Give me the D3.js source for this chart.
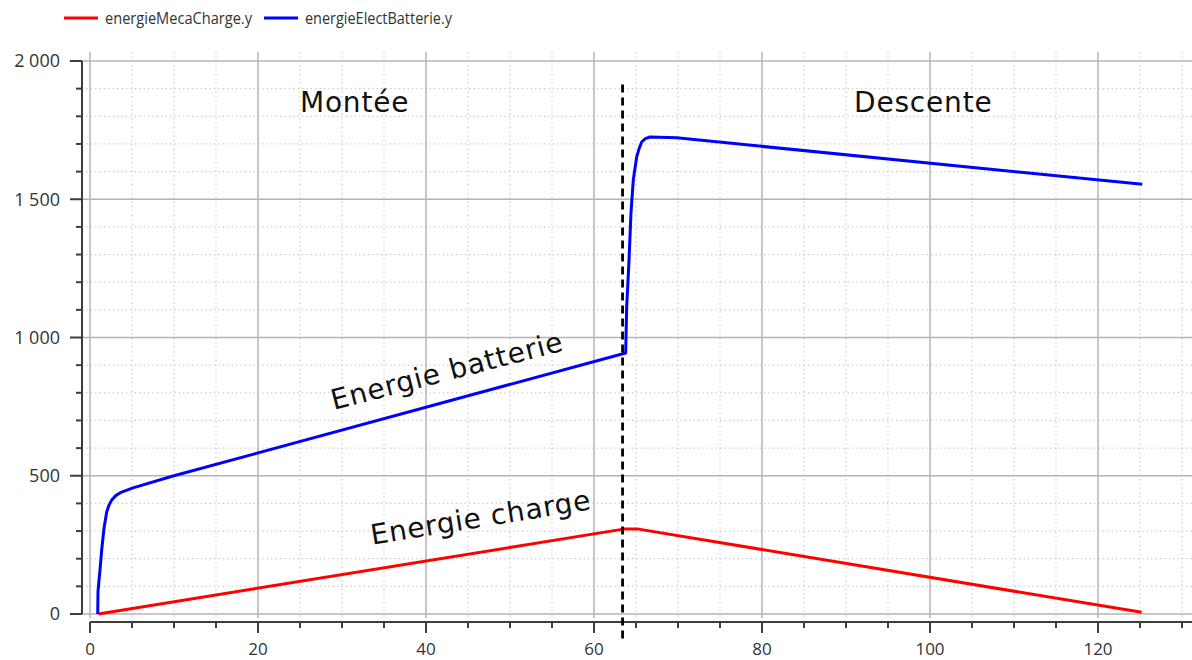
<!DOCTYPE html>
<html>
<head>
<meta charset="utf-8">
<script src="https://cdn.jsdelivr.net/npm/d3@7"></script>
<style>
  html, body { margin: 0; padding: 0; background: #fff; }
  svg { display: block; }
</style>
</head>
<body>
<svg id="chart" width="1192" height="660"></svg>
<script>
// Mechanical energy delivered to the load (J) versus time (s)
const chargeTime   = [1.0, 63.5, 65.3, 125.2];
const chargeEnergy = [0, 307, 307, 6];

// Electrical energy drawn from the battery (J) versus time (s)
const batteryTime   = [0.92, 0.95, 1.08, 1.19, 1.39, 1.67, 1.99, 2.25, 2.58, 3.1, 3.77, 5.12, 9.88,
                       63.77, 63.89, 64.17, 64.40, 64.68, 65.08, 65.4, 65.68, 66.1, 66.67, 69.85, 125.27];
const batteryEnergy = [0, 80, 125, 159, 231, 311, 369, 393, 412, 429, 441, 456, 499,
                       944, 1110, 1280, 1450, 1570, 1653, 1686, 1707, 1719, 1725, 1722, 1554];

// Axis ticks
const xTickValues = [0, 20, 40, 60, 80, 100, 120];
const xTickLabels = ["0", "20", "40", "60", "80", "100", "120"];
const yTickValues = [0, 500, 1000, 1500, 2000];
const yTickLabels = ["0", "500", "1 000", "1 500", "2 000"];

// Series names for the legend
const seriesNames  = ["energieMecaCharge.y", "energieElectBatterie.y"];
const seriesColors = ["#ff0000", "#0000ff"];

// Phase annotations
const phaseSwitchTime = 63.4;
const phaseLabels = ["Montée", "Descente"];
const phaseLabelTime = [31.5, 99.2];
const phaseLabelEnergy = [1850, 1852];
const curveLabels = ["Energie batterie", "Energie charge"];
const curveLabelTime = [42.5, 46.5];
const curveLabelEnergy = [880, 350];
const curveLabelAngle = [-14.5, -9.2];

const svg = d3.select("#chart");

const x = d3.scaleLinear().domain([0, 120]).range([90, 1098]);
const y = d3.scaleLinear().domain([0, 2000]).range([614, 61]);

const plot = { left: 82, right: 1192, top: 52, bottom: 618 };

svg.append("defs").append("clipPath").attr("id", "plotClip")
  .append("rect")
  .attr("x", plot.left).attr("y", plot.top)
  .attr("width", plot.right - plot.left).attr("height", plot.bottom - plot.top);

const grid = svg.append("g").attr("clip-path", "url(#plotClip)");

// minor grid (dotted)
const xMinor = d3.range(0, 135, 5).filter(v => v % 20 !== 0);
const yMinor = d3.range(0, 2001, 100).filter(v => v % 500 !== 0);
grid.selectAll("line.xminor").data(xMinor).join("line")
  .attr("x1", d => x(d)).attr("x2", d => x(d))
  .attr("y1", plot.top).attr("y2", plot.bottom)
  .attr("stroke", "#c4c4c4").attr("stroke-width", 1.2)
  .attr("stroke-dasharray", "1.2,3.2");
grid.selectAll("line.yminor").data(yMinor).join("line")
  .attr("x1", plot.left).attr("x2", plot.right)
  .attr("y1", d => y(d)).attr("y2", d => y(d))
  .attr("stroke", "#c4c4c4").attr("stroke-width", 1.2)
  .attr("stroke-dasharray", "1.2,3.2");

// major grid (solid)
const xMajor = d3.range(0, 141, 20);
grid.selectAll("line.xmajor").data(xMajor).join("line")
  .attr("x1", d => x(d)).attr("x2", d => x(d))
  .attr("y1", plot.top).attr("y2", plot.bottom)
  .attr("stroke", "#b4b4b4").attr("stroke-width", 1.5);
grid.selectAll("line.ymajor").data(yTickValues).join("line")
  .attr("x1", plot.left).attr("x2", plot.right)
  .attr("y1", d => y(d)).attr("y2", d => y(d))
  .attr("stroke", "#b4b4b4").attr("stroke-width", 1.5);

// axes
const axisColor = "#3c3c3c";
const axes = svg.append("g");
axes.append("line")
  .attr("x1", plot.left).attr("x2", plot.left)
  .attr("y1", y(2000)).attr("y2", y(0))
  .attr("stroke", axisColor).attr("stroke-width", 2);
axes.selectAll("line.yt").data(d3.range(0, 2001, 100)).join("line")
  .attr("x1", d => plot.left - (d % 500 === 0 ? 12 : 6)).attr("x2", plot.left)
  .attr("y1", d => y(d)).attr("y2", d => y(d))
  .attr("stroke", axisColor).attr("stroke-width", 2);
axes.append("line")
  .attr("x1", x(0)).attr("x2", plot.right)
  .attr("y1", 622).attr("y2", 622)
  .attr("stroke", axisColor).attr("stroke-width", 2);
axes.selectAll("line.xt").data(d3.range(0, 135, 5)).join("line")
  .attr("x1", d => x(d)).attr("x2", d => x(d))
  .attr("y1", 622).attr("y2", d => 622 + (d % 20 === 0 ? 11 : 6))
  .attr("stroke", axisColor).attr("stroke-width", 2);

const tickFont = "'Open Sans', 'Noto Sans', sans-serif";
axes.selectAll("text.yl").data(yTickValues).join("text")
  .attr("x", 60).attr("y", d => y(d))
  .attr("dy", "0.35em").attr("text-anchor", "end")
  .attr("font-family", tickFont).attr("font-size", 18).attr("fill", "#333")
  .text((d, i) => yTickLabels[i]);
axes.selectAll("text.xl").data(xTickValues).join("text")
  .attr("x", d => x(d)).attr("y", 649)
  .attr("dy", "0.35em").attr("text-anchor", "middle")
  .attr("font-family", tickFont).attr("font-size", 17).attr("fill", "#333")
  .text((d, i) => xTickLabels[i]);

// series
const lineGen = d3.line().x(d => x(d[0])).y(d => y(d[1]));
const series = svg.append("g").attr("clip-path", "url(#plotClip)");
series.append("path")
  .datum(d3.zip(chargeTime, chargeEnergy))
  .attr("d", lineGen).attr("fill", "none")
  .attr("stroke", seriesColors[0]).attr("stroke-width", 3)
  .attr("stroke-linejoin", "round");
series.append("path")
  .datum(d3.zip(batteryTime, batteryEnergy))
  .attr("d", lineGen).attr("fill", "none")
  .attr("stroke", seriesColors[1]).attr("stroke-width", 3)
  .attr("stroke-linejoin", "round");

// phase separator
svg.append("line")
  .attr("x1", x(phaseSwitchTime)).attr("x2", x(phaseSwitchTime))
  .attr("y1", y(1915)).attr("y2", y(-95))
  .attr("stroke", "#000").attr("stroke-width", 2.8)
  .attr("stroke-dasharray", "8,5");

// annotations
const annFont = "'DejaVu Sans', Verdana, sans-serif";
svg.selectAll("text.phase").data(phaseLabels).join("text")
  .attr("x", (d, i) => x(phaseLabelTime[i]))
  .attr("y", (d, i) => y(phaseLabelEnergy[i]))
  .attr("dy", "0.35em").attr("text-anchor", "middle")
  .attr("font-family", annFont).attr("font-size", 28).attr("fill", "#111")
  .attr("letter-spacing", 0.8)
  .text(d => d);
svg.selectAll("text.curve").data(curveLabels).join("text")
  .attr("transform", (d, i) => `translate(${x(curveLabelTime[i])},${y(curveLabelEnergy[i])}) rotate(${curveLabelAngle[i]})`)
  .attr("dy", "0.35em").attr("text-anchor", "middle")
  .attr("font-family", annFont).attr("font-size", 28).attr("fill", "#111")
  .attr("letter-spacing", 0.8)
  .text(d => d);

// legend
const legend = svg.append("g");
const legendX = [64, 264];
const legendTextWidth = [147, 147];
seriesNames.forEach((name, i) => {
  const g = legend.append("g").attr("transform", `translate(${legendX[i]},18)`);
  g.append("line").attr("x1", 0).attr("x2", 34).attr("y1", 0).attr("y2", 0)
    .attr("stroke", seriesColors[i]).attr("stroke-width", 3);
  g.append("text").attr("x", 41).attr("y", 0).attr("dy", "0.35em")
    .attr("font-family", tickFont).attr("font-size", 17).attr("fill", "#333")
    .attr("textLength", legendTextWidth[i]).attr("lengthAdjust", "spacingAndGlyphs")
    .text(name);
});
</script>
</body>
</html>
